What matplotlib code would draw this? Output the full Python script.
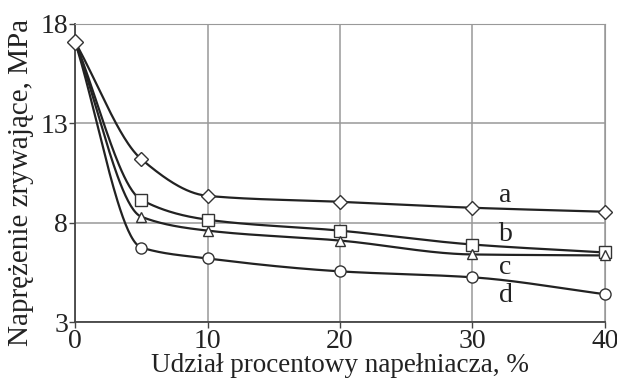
import numpy as np
import matplotlib
matplotlib.use("Agg")
import matplotlib.pyplot as plt

# udzial napelniacza, %
x = [0, 5, 10, 20, 30, 40]
a = [17.1, 11.2, 9.35, 9.05, 8.75, 8.55]
b = [17.1, 9.15, 8.15, 7.6, 6.9, 6.5]
c = [17.1, 8.3, 7.6, 7.1, 6.4, 6.35]
d = [17.1, 6.75, 6.2, 5.55, 5.25, 4.4]
names = ["a", "b", "c", "d"]
label_pos = [(32.5, 9.35), (32.5, 7.4), (32.5, 5.75), (32.5, 4.35)]


def pchip(xs, ys, xn):
    # monotone cubic, only used to draw a smooth line between the points
    xs = np.asarray(xs, float)
    ys = np.asarray(ys, float)
    h = np.diff(xs)
    dl = np.diff(ys) / h
    m = np.zeros_like(ys)
    for k in range(1, len(xs) - 1):
        if dl[k - 1] * dl[k] > 0:
            w1 = 2 * h[k] + h[k - 1]
            w2 = h[k] + 2 * h[k - 1]
            m[k] = (w1 + w2) / (w1 / dl[k - 1] + w2 / dl[k])
    m[0] = dl[0]
    m[-1] = dl[-1]
    out = np.empty_like(xn)
    for i, v in enumerate(xn):
        k = min(np.searchsorted(xs, v, side="right") - 1, len(xs) - 2)
        t = (v - xs[k]) / h[k]
        h00 = 2 * t**3 - 3 * t**2 + 1
        h10 = t**3 - 2 * t**2 + t
        h01 = -2 * t**3 + 3 * t**2
        h11 = t**3 - t**2
        out[i] = h00 * ys[k] + h10 * h[k] * m[k] + h01 * ys[k + 1] + h11 * h[k] * m[k + 1]
    return out


plt.rcParams["font.family"] = ["Liberation Serif", "DejaVu Serif"]
fig = plt.figure(figsize=(6.17, 3.85), dpi=100)
ax = fig.add_axes([0.1216, 0.1636, 0.8589, 0.7741])

xn = np.linspace(0, 40, 400)
markers = ["D", "s", "^", "o"]
sizes = [7.5, 8.5, 7.5, 8]
for ys, mk, ms in zip([a, b, c, d], markers, sizes):
    ax.plot(xn, pchip(x, ys, xn), color="#222222", lw=1.6, zorder=3)
    ax.plot(x[1:], ys[1:], ls="none", marker=mk, ms=ms, mfc="white",
            mec="#333333", mew=1.0, zorder=4, clip_on=False)
ax.plot([x[0]], [a[0]], ls="none", marker="D", ms=8, mfc="white",
        mec="#333333", mew=1.0, zorder=5, clip_on=False)

for n, (px, py) in zip(names, label_pos):
    ax.text(px, py, n, fontsize=20, ha="center", va="center", color="#222222")

ax.set_xlim(0, 40)
ax.set_ylim(3, 18)
ax.set_xticks([0, 10, 20, 30, 40])
ax.set_yticks([3, 8, 13, 18])
ax.grid(True, color="#999999", lw=1.1)
for s in ["top", "right"]:
    ax.spines[s].set_color("#999999")
for s in ["left", "bottom"]:
    ax.spines[s].set_color("#444444")
    ax.spines[s].set_linewidth(1.3)
ax.tick_params(labelsize=20, length=4, width=1, colors="#444444", labelcolor="#222222", pad=1)
ax.set_xlabel("Udział procentowy napełniacza, %", fontsize=19.5, color="#222222")
ax.xaxis.set_label_coords(0.5, -0.105)
ax.set_ylabel("Naprężenie zrywające, MPa", fontsize=21, color="#222222")
ax.yaxis.set_label_coords(-0.077, 0.47)

fig.savefig("out.png", dpi=100)
